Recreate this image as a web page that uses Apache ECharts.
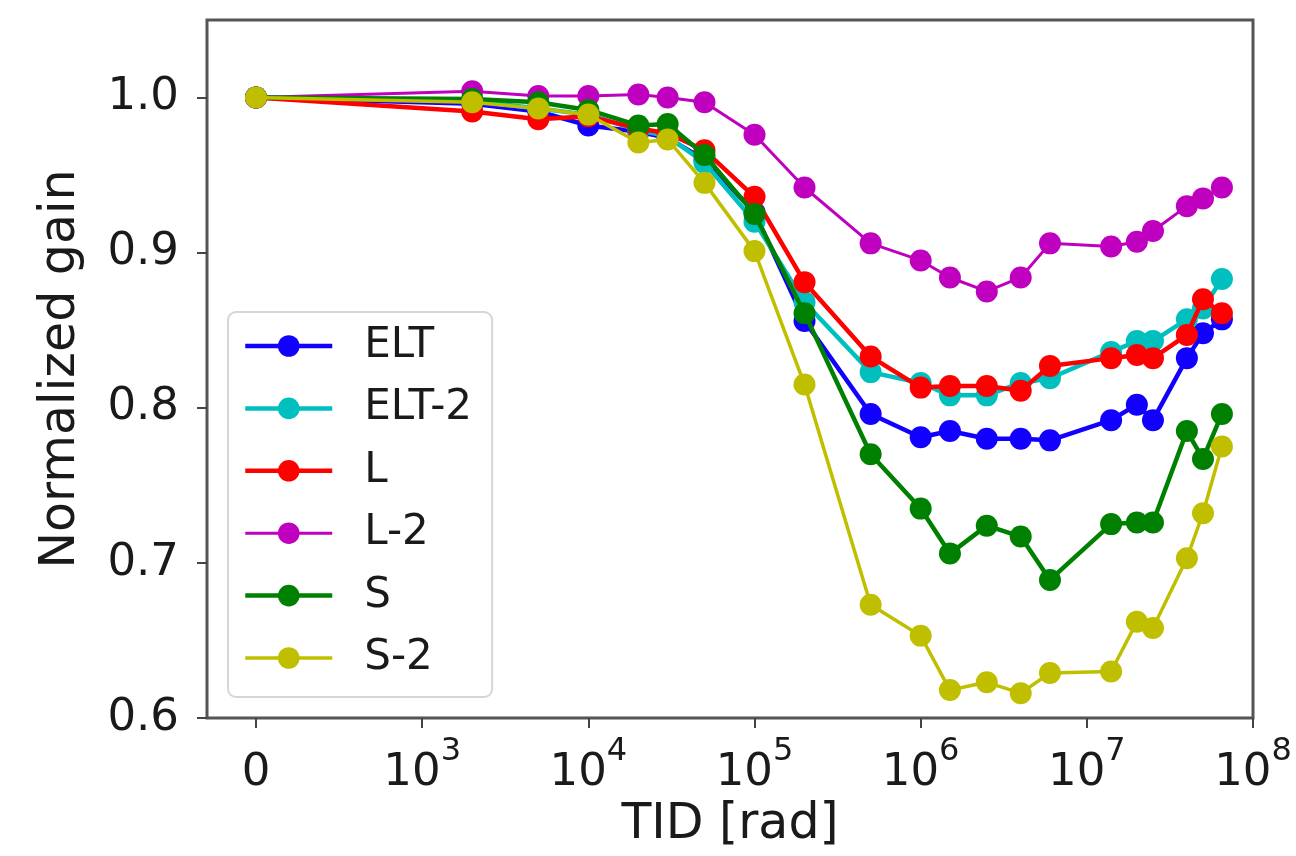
<!DOCTYPE html>
<html>
<head>
<meta charset="utf-8">
<script src="https://cdn.jsdelivr.net/npm/echarts@6/dist/echarts.min.js"></script>
<style>
  html, body { margin: 0; padding: 0; background: #ffffff; }
  #chart { width: 1296px; height: 856px; }
</style>
</head>
<body>
<div id="chart"></div>
<script>
// Total ionizing dose steps [rad]
const doses = [0, 2e3, 5e3, 1e4, 2e4, 3e4, 5e4, 1e5, 2e5, 5e5, 1e6, 1.5e6, 2.5e6, 4e6, 6e6, 1.4e7, 2e7, 2.5e7, 4e7, 5e7, 6.5e7];

// Normalized gain per transistor layout
const gainELT  = [1.000, 0.996, 0.991, 0.982, 0.978, 0.974, 0.960, 0.926, 0.856, 0.796, 0.781, 0.785, 0.780, 0.780, 0.779, 0.792, 0.802, 0.792, 0.832, 0.848, 0.857];
const gainELT2 = [1.000, 0.998, 0.993, 0.989, 0.979, 0.975, 0.958, 0.920, 0.868, 0.823, 0.816, 0.808, 0.808, 0.816, 0.819, 0.836, 0.843, 0.843, 0.857, 0.864, 0.883];
const gainL    = [1.000, 0.991, 0.986, 0.988, 0.980, 0.977, 0.966, 0.936, 0.881, 0.833, 0.813, 0.814, 0.814, 0.811, 0.827, 0.832, 0.834, 0.832, 0.847, 0.870, 0.861];
const gainL2   = [1.000, 1.004, 1.001, 1.001, 1.002, 1.000, 0.997, 0.976, 0.942, 0.906, 0.895, 0.884, 0.875, 0.884, 0.906, 0.904, 0.907, 0.914, 0.930, 0.935, 0.942];
const gainS    = [1.000, 0.999, 0.997, 0.992, 0.982, 0.983, 0.963, 0.925, 0.861, 0.770, 0.735, 0.706, 0.724, 0.717, 0.689, 0.725, 0.726, 0.726, 0.785, 0.767, 0.796];
const gainS2   = [1.000, 0.997, 0.993, 0.989, 0.971, 0.973, 0.945, 0.901, 0.815, 0.673, 0.653, 0.618, 0.623, 0.616, 0.629, 0.630, 0.662, 0.658, 0.703, 0.732, 0.775];

const seriesNames  = ['ELT', 'ELT-2', 'L', 'L-2', 'S', 'S-2'];
const seriesGains  = [gainELT, gainELT2, gainL, gainL2, gainS, gainS2];
const seriesColors = ['#1100ff', '#00bfbf', '#ff0000', '#bf00bf', '#008000', '#bfbf00'];
const seriesWidths = [4.5, 4.5, 4.5, 3, 4.5, 3.5];

// Axis ticks
const xTickDoses = [0, 1e3, 1e4, 1e5, 1e6, 1e7, 1e8];
const yTickValues = [0.6, 0.7, 0.8, 0.9, 1.0];

// Symmetric-log position: linear from 0 to 10^3, then one unit per decade
function symlog(v) {
  return v < 1e3 ? v / 1e3 : Math.log10(v) - 2;
}

const FONT = 'DejaVu Sans';
const TEXT = '#1a1a1a';

const series = seriesNames.map((name, i) => ({
  name: name,
  type: 'line',
  data: doses.map((d, k) => [symlog(d), seriesGains[i][k]]),
  symbol: 'circle',
  symbolSize: 22,
  showAllSymbol: true,
  z: 2 + i,
  lineStyle: { color: seriesColors[i], width: seriesWidths[i] },
  itemStyle: { color: seriesColors[i], borderWidth: 0 },
  emphasis: { disabled: true },
  silent: true,
  animation: false
}));

const xTickPositions = xTickDoses.map(symlog);

function xLabel(value) {
  const idx = xTickPositions.findIndex(p => Math.abs(p - value) < 1e-6);
  if (idx < 0) return '';
  const d = xTickDoses[idx];
  if (d === 0) return '{b|0}';
  return '{b|10}{s|' + Math.round(Math.log10(d)) + '}';
}

const chart = echarts.init(document.getElementById('chart'), null, { renderer: 'canvas' });

chart.setOption({
  backgroundColor: '#ffffff',
  animation: false,
  grid: {
    left: 207, top: 20, right: 43, bottom: 138,
    show: true, borderColor: '#555555', borderWidth: 3, backgroundColor: 'transparent'
  },
  xAxis: {
    type: 'value',
    min: -0.295,
    max: 6,
    name: 'TID [rad]',
    nameLocation: 'middle',
    nameGap: 82,
    nameTextStyle: { fontFamily: FONT, fontSize: 49, color: TEXT },
    axisLine: { show: false, onZero: false },
    splitLine: { show: false },
    axisTick: {
      show: true, inside: false, length: 10,
      customValues: xTickPositions,
      lineStyle: { color: '#444444', width: 2 }
    },
    axisLabel: {
      customValues: xTickPositions,
      margin: 18,
      formatter: xLabel,
      rich: {
        b: { fontFamily: FONT, fontSize: 45, color: TEXT, lineHeight: 60, verticalAlign: 'bottom' },
        s: { fontFamily: FONT, fontSize: 32, color: TEXT, lineHeight: 60, verticalAlign: 'top' }
      }
    }
  },
  yAxis: {
    type: 'value',
    min: 0.6,
    max: 1.05,
    name: 'Normalized gain',
    nameLocation: 'middle',
    nameGap: 121,
    nameTextStyle: { fontFamily: FONT, fontSize: 49, color: TEXT },
    axisLine: { show: false, onZero: false },
    splitLine: { show: false },
    axisTick: {
      show: true, inside: false, length: 10,
      customValues: yTickValues,
      lineStyle: { color: '#444444', width: 2 }
    },
    axisLabel: {
      customValues: yTickValues,
      margin: 28,
      fontFamily: FONT, fontSize: 45, color: TEXT,
      formatter: v => v.toFixed(1)
    }
  },
  legend: {
    orient: 'vertical',
    left: 228,
    top: 312,
    data: seriesNames.map((n, i) => ({ name: n, lineStyle: { width: seriesWidths[i] } })),
    padding: [10, 20, 15, 15],
    itemGap: 14.4,
    itemWidth: 87,
    itemHeight: 27,
    backgroundColor: '#ffffff',
    borderColor: '#d6d6d6',
    borderWidth: 2,
    borderRadius: 8,
    selectedMode: false,
    textStyle: { fontFamily: FONT, fontSize: 42, color: TEXT, lineHeight: 48, padding: [0, 0, 0, 27] }
  },
  series: series
});
</script>
</body>
</html>
